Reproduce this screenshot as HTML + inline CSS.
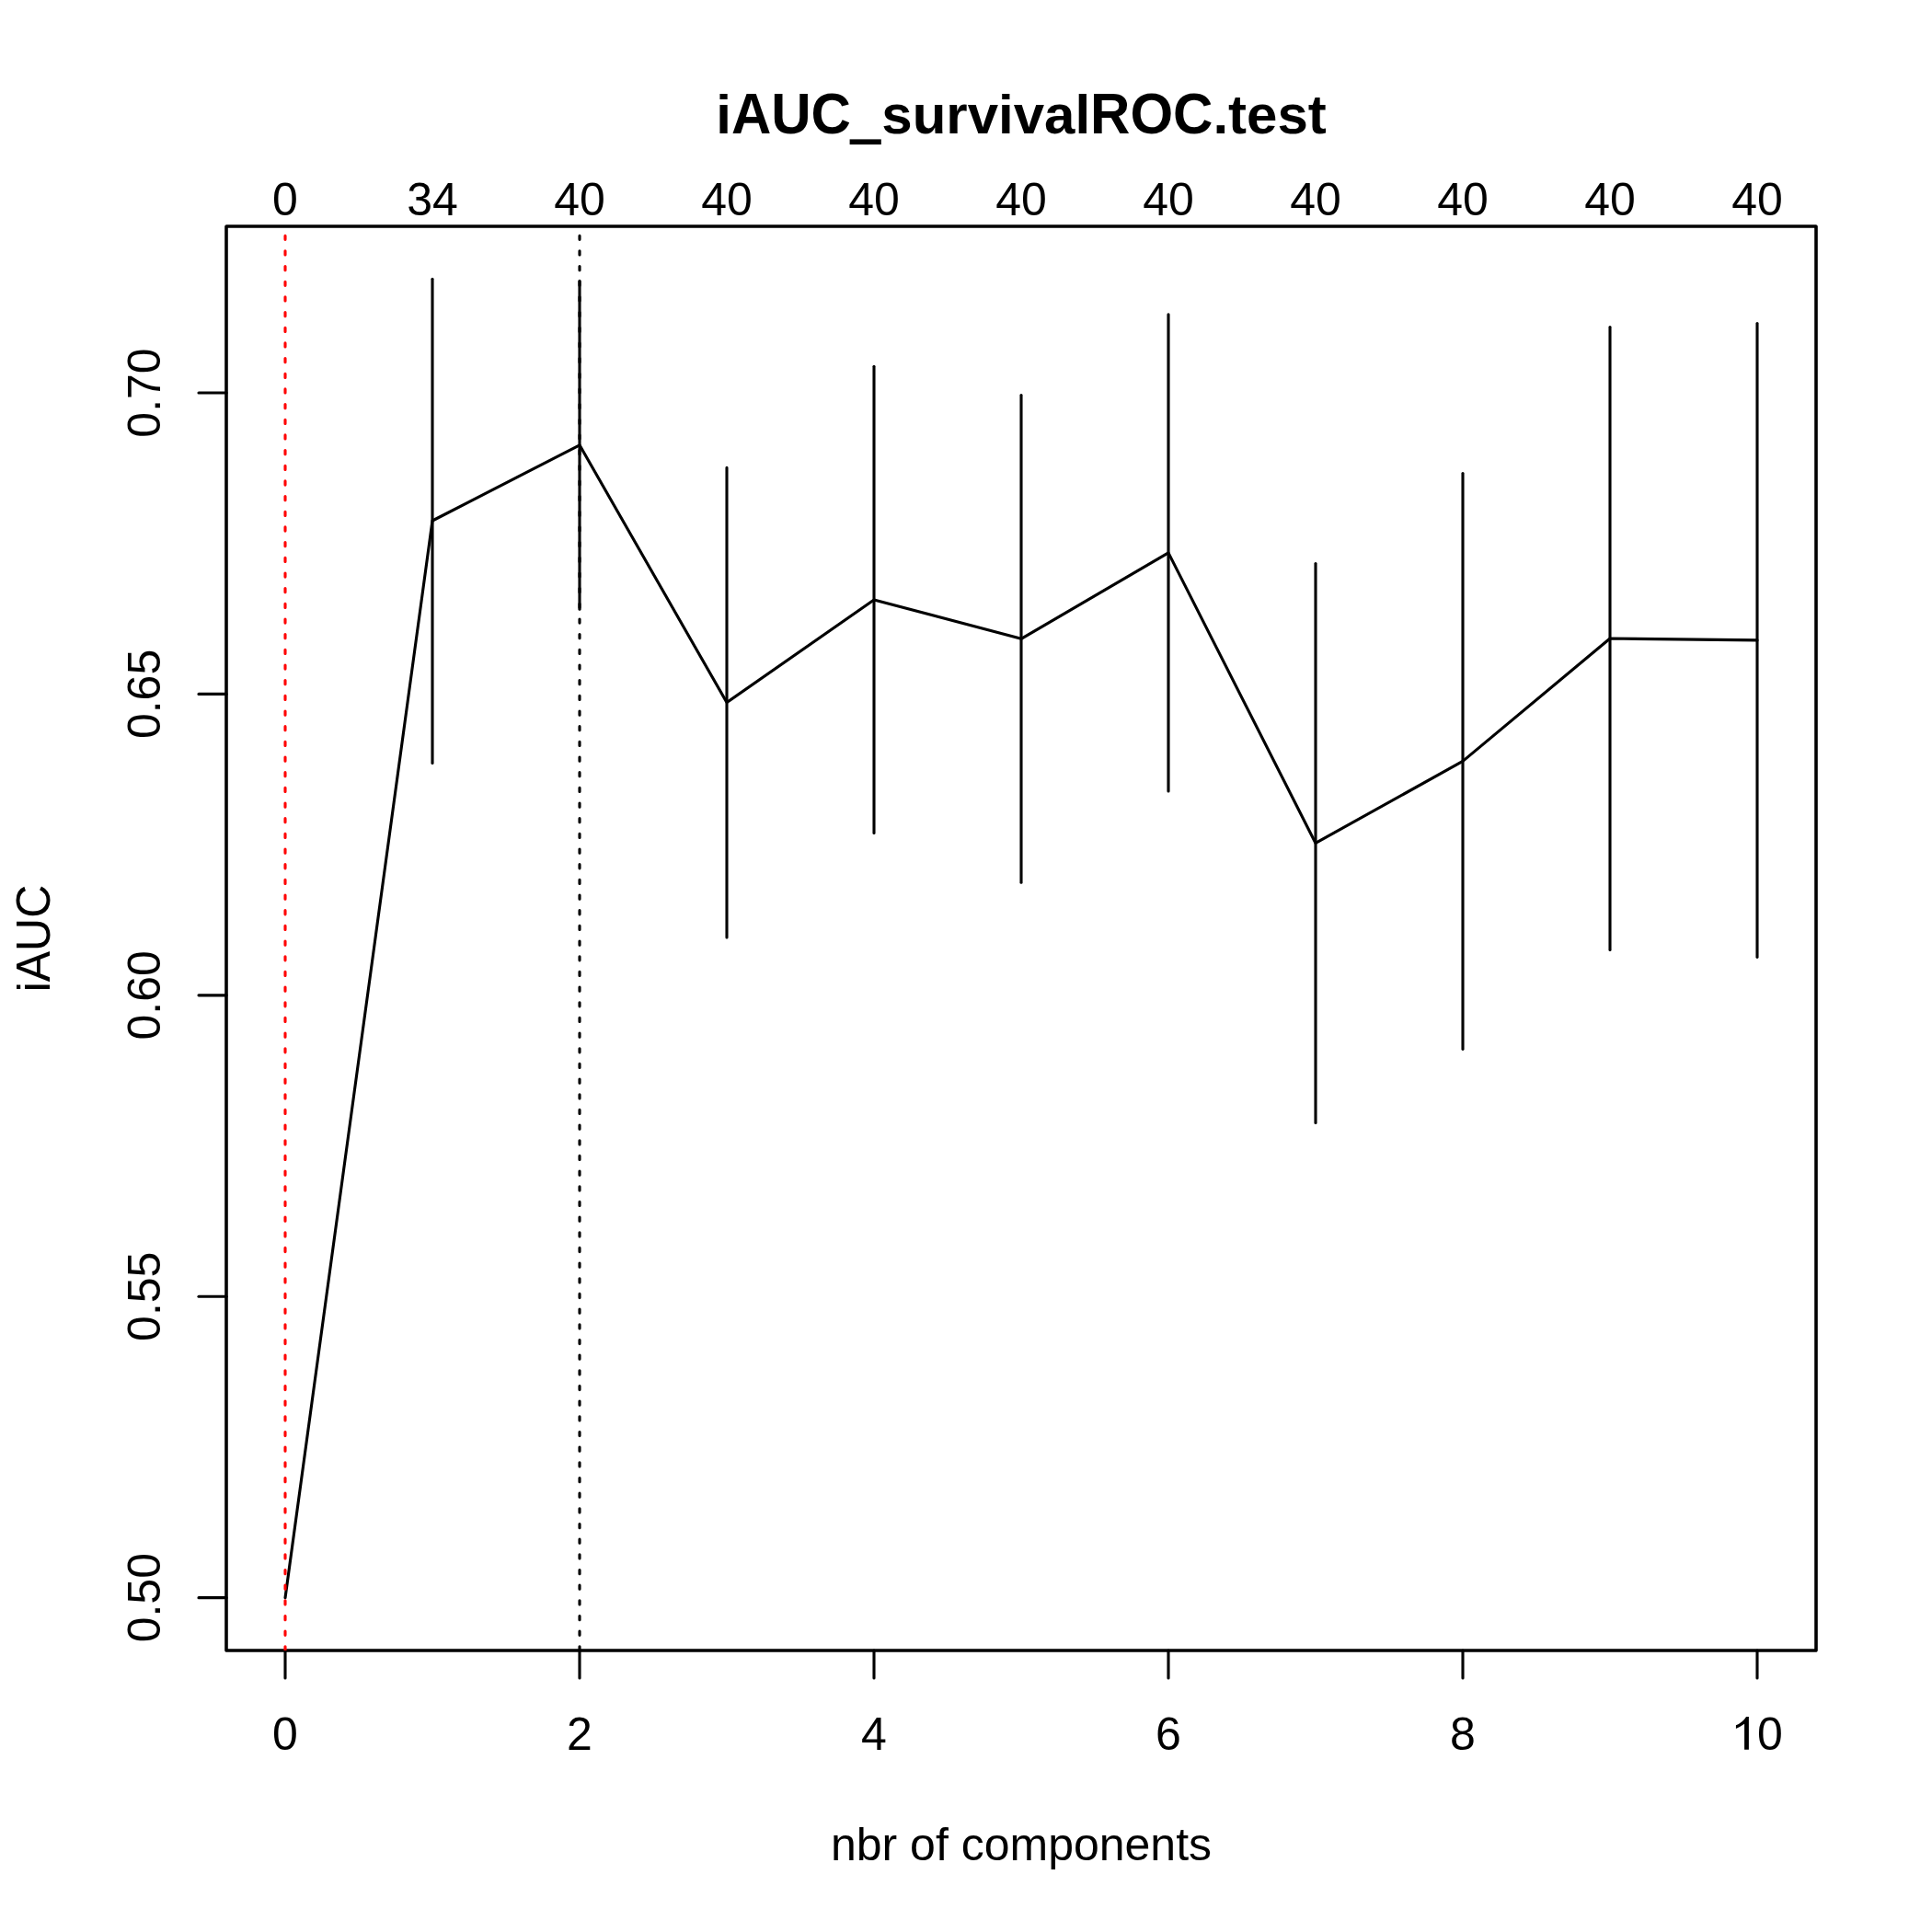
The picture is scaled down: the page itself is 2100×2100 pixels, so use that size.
<!DOCTYPE html><html><head><meta charset="utf-8"><title>iAUC_survivalROC.test</title><style>html,body{margin:0;padding:0;background:#fff;overflow:hidden;}svg{display:block;}text{font-family:"Liberation Sans",sans-serif;font-kerning:none;}</style></head><body>
<svg width="2100" height="2100" viewBox="0 0 2100 2100" xmlns="http://www.w3.org/2000/svg">
<rect x="0" y="0" width="2100" height="2100" fill="#fff"/>
<rect x="246" y="246" width="1728" height="1548" fill="none" stroke="#000" stroke-width="3.1" stroke-linejoin="round"/>
<rect x="246" y="246" width="1728" height="1548" fill="none" stroke="#000" stroke-width="3.1" stroke-linejoin="round"/>
<line x1="310.00" y1="1794" x2="310.00" y2="1824" stroke="#000" stroke-width="3.1" stroke-linecap="round"/>
<line x1="630.00" y1="1794" x2="630.00" y2="1824" stroke="#000" stroke-width="3.1" stroke-linecap="round"/>
<line x1="950.00" y1="1794" x2="950.00" y2="1824" stroke="#000" stroke-width="3.1" stroke-linecap="round"/>
<line x1="1270.00" y1="1794" x2="1270.00" y2="1824" stroke="#000" stroke-width="3.1" stroke-linecap="round"/>
<line x1="1590.00" y1="1794" x2="1590.00" y2="1824" stroke="#000" stroke-width="3.1" stroke-linecap="round"/>
<line x1="1910.00" y1="1794" x2="1910.00" y2="1824" stroke="#000" stroke-width="3.1" stroke-linecap="round"/>
<line x1="246" y1="1736.67" x2="216" y2="1736.67" stroke="#000" stroke-width="3.1" stroke-linecap="round"/>
<line x1="246" y1="1409.25" x2="216" y2="1409.25" stroke="#000" stroke-width="3.1" stroke-linecap="round"/>
<line x1="246" y1="1081.84" x2="216" y2="1081.84" stroke="#000" stroke-width="3.1" stroke-linecap="round"/>
<line x1="246" y1="754.42" x2="216" y2="754.42" stroke="#000" stroke-width="3.1" stroke-linecap="round"/>
<line x1="246" y1="427.01" x2="216" y2="427.01" stroke="#000" stroke-width="3.1" stroke-linecap="round"/>
<polyline points="310.00,1736.67 470.00,566.00 630.00,483.80 790.00,763.60 950.00,651.90 1110.00,694.30 1270.00,600.85 1430.00,916.45 1590.00,827.40 1750.00,694.00 1910.00,695.90" fill="none" stroke="#000" stroke-width="3.1" stroke-linejoin="round" stroke-linecap="round"/>
<line x1="470.00" y1="829.45" x2="470.00" y2="303.30" stroke="#000" stroke-width="3.1" stroke-linecap="round"/>
<line x1="630.00" y1="662.20" x2="630.00" y2="305.30" stroke="#000" stroke-width="3.1" stroke-linecap="round"/>
<line x1="790.00" y1="1018.95" x2="790.00" y2="508.40" stroke="#000" stroke-width="3.1" stroke-linecap="round"/>
<line x1="950.00" y1="905.55" x2="950.00" y2="398.30" stroke="#000" stroke-width="3.1" stroke-linecap="round"/>
<line x1="1110.00" y1="959.15" x2="1110.00" y2="429.45" stroke="#000" stroke-width="3.1" stroke-linecap="round"/>
<line x1="1270.00" y1="860.00" x2="1270.00" y2="341.70" stroke="#000" stroke-width="3.1" stroke-linecap="round"/>
<line x1="1430.00" y1="1220.45" x2="1430.00" y2="612.45" stroke="#000" stroke-width="3.1" stroke-linecap="round"/>
<line x1="1590.00" y1="1140.35" x2="1590.00" y2="514.50" stroke="#000" stroke-width="3.1" stroke-linecap="round"/>
<line x1="1750.00" y1="1032.45" x2="1750.00" y2="355.55" stroke="#000" stroke-width="3.1" stroke-linecap="round"/>
<line x1="1910.00" y1="1040.35" x2="1910.00" y2="351.50" stroke="#000" stroke-width="3.1" stroke-linecap="round"/>
<defs><clipPath id="plotclip"><rect x="246" y="246" width="1728" height="1548"/></clipPath></defs>
<g clip-path="url(#plotclip)">
<line x1="630.00" y1="1794" x2="630.00" y2="246" stroke="#000" stroke-width="3.1" stroke-linecap="round" stroke-dasharray="4.17 12.5"/>
<line x1="310.00" y1="1794" x2="310.00" y2="246" stroke="#f00" stroke-width="3.1" stroke-linecap="round" stroke-dasharray="4.17 12.5"/>
</g>
<text transform="translate(310.00 1901.80) scale(1 1.012)" x="0" y="0" font-size="50" text-anchor="middle">0</text>
<text transform="translate(630.00 1901.80) scale(1 1.012)" x="0" y="0" font-size="50" text-anchor="middle">2</text>
<text transform="translate(950.00 1901.80) scale(1 1.012)" x="0" y="0" font-size="50" text-anchor="middle">4</text>
<text transform="translate(1270.00 1901.80) scale(1 1.012)" x="0" y="0" font-size="50" text-anchor="middle">6</text>
<text transform="translate(1590.00 1901.80) scale(1 1.012)" x="0" y="0" font-size="50" text-anchor="middle">8</text>
<path d="M1900.89,1866.05 L1900.89,1901.76 L1896.08,1901.76 L1896.08,1873.81 Q1892,1876.8 1886.92,1878.99 L1886.92,1875.36 Q1894.5,1872.2 1898.04,1866.05 Z" fill="#000"/>
<text transform="translate(1910.00 1901.80) scale(1 1.012)" x="0" y="0" font-size="50" text-anchor="start">0</text>
<text transform="translate(310.00 234.10) scale(1 1.012)" x="0" y="0" font-size="50" text-anchor="middle">0</text>
<text transform="translate(470.00 234.10) scale(1 1.012)" x="0" y="0" font-size="50" text-anchor="middle">34</text>
<text transform="translate(630.00 234.10) scale(1 1.012)" x="0" y="0" font-size="50" text-anchor="middle">40</text>
<text transform="translate(790.00 234.10) scale(1 1.012)" x="0" y="0" font-size="50" text-anchor="middle">40</text>
<text transform="translate(950.00 234.10) scale(1 1.012)" x="0" y="0" font-size="50" text-anchor="middle">40</text>
<text transform="translate(1110.00 234.10) scale(1 1.012)" x="0" y="0" font-size="50" text-anchor="middle">40</text>
<text transform="translate(1270.00 234.10) scale(1 1.012)" x="0" y="0" font-size="50" text-anchor="middle">40</text>
<text transform="translate(1430.00 234.10) scale(1 1.012)" x="0" y="0" font-size="50" text-anchor="middle">40</text>
<text transform="translate(1590.00 234.10) scale(1 1.012)" x="0" y="0" font-size="50" text-anchor="middle">40</text>
<text transform="translate(1750.00 234.10) scale(1 1.012)" x="0" y="0" font-size="50" text-anchor="middle">40</text>
<text transform="translate(1910.00 234.10) scale(1 1.012)" x="0" y="0" font-size="50" text-anchor="middle">40</text>
<text transform="translate(174.1 1736.67) rotate(-90) scale(1 1.012)" x="0" y="0" font-size="50" text-anchor="middle">0.50</text>
<text transform="translate(174.1 1409.25) rotate(-90) scale(1 1.012)" x="0" y="0" font-size="50" text-anchor="middle">0.55</text>
<text transform="translate(174.1 1081.84) rotate(-90) scale(1 1.012)" x="0" y="0" font-size="50" text-anchor="middle">0.60</text>
<text transform="translate(174.1 754.42) rotate(-90) scale(1 1.012)" x="0" y="0" font-size="50" text-anchor="middle">0.65</text>
<text transform="translate(174.1 427.01) rotate(-90) scale(1 1.012)" x="0" y="0" font-size="50" text-anchor="middle">0.70</text>
<text transform="translate(778.23 144.60) scale(1 1.0)" x="0" y="0" font-size="60" text-anchor="start" font-weight="bold">i</text>
<text transform="translate(794.90 144.60) scale(1 1.046)" x="0" y="0" font-size="60" text-anchor="start" font-weight="bold">AUC</text>
<rect x="923.6" y="151.4" width="34.2" height="5.7" fill="#000"/>
<text transform="translate(958.26 144.60) scale(1 1.0)" x="0" y="0" font-size="60" text-anchor="start" font-weight="bold">survival</text>
<text transform="translate(1185.08 144.60) scale(1 1.046)" x="0" y="0" font-size="60" text-anchor="start" font-weight="bold">ROC</text>
<text transform="translate(1318.41 144.60) scale(1 1.0)" x="0" y="0" font-size="60" text-anchor="start" font-weight="bold">.test</text>
<text transform="translate(1110.00 2021.80) scale(1 1.0)" x="0" y="0" font-size="50" text-anchor="middle">nbr of components</text>
<text transform="translate(54.0 1020) rotate(-90) translate(-58.34 0)" x="0" y="0" font-size="50" text-anchor="start">i</text>
<text transform="translate(54.0 1020) rotate(-90) translate(-47.23 0) scale(1 1.046)" x="0" y="0" font-size="50" text-anchor="start">AUC</text>
</svg></body></html>
